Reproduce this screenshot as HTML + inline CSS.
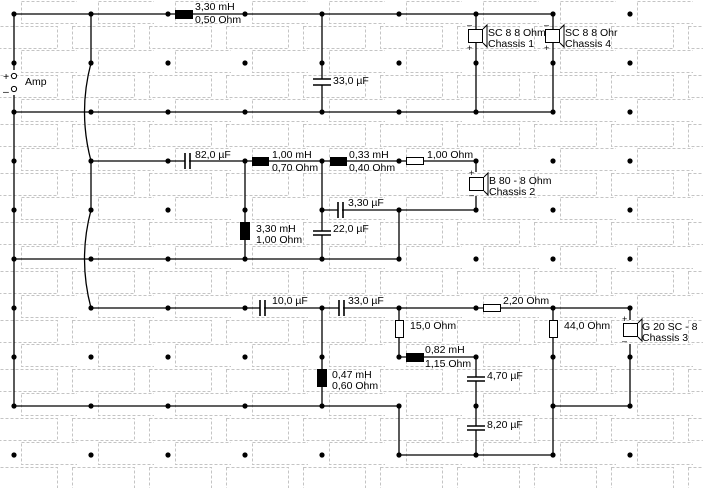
<!DOCTYPE html>
<html><head><meta charset="utf-8"><style>
html,body{margin:0;padding:0;background:#fff;}
svg{display:block;font-family:"Liberation Sans",sans-serif;font-size:10.5px;}
</style></head><body>
<svg width="703" height="488" viewBox="0 0 703 488" xmlns="http://www.w3.org/2000/svg">
<defs>
<pattern id="br" x="0" y="1" width="77" height="49" patternUnits="userSpaceOnUse">
<g fill="none" stroke="#c4c4c4" stroke-dasharray="3,2" stroke-width="1">
<rect x="-4.5" y="25.5" width="62" height="22"/>
<rect x="72.5" y="25.5" width="62" height="22"/>
<rect x="21.5" y="0.5" width="60" height="22"/>
</g>
</pattern>
</defs>
<rect x="0" y="0" width="703" height="488" fill="url(#br)"/>
<!-- grid dots -->
<g fill="#000">
<g id="row">
<circle cx="14" cy="14" r="2.6"/><circle cx="91" cy="14" r="2.6"/><circle cx="168" cy="14" r="2.6"/><circle cx="245" cy="14" r="2.6"/><circle cx="322" cy="14" r="2.6"/><circle cx="399" cy="14" r="2.6"/><circle cx="476" cy="14" r="2.6"/><circle cx="553" cy="14" r="2.6"/><circle cx="630" cy="14" r="2.6"/>
</g>
<use href="#row" y="49"/><use href="#row" y="98"/><use href="#row" y="147"/><use href="#row" y="196"/><use href="#row" y="245"/><use href="#row" y="294"/><use href="#row" y="343"/><use href="#row" y="392"/><use href="#row" y="441"/>
</g>
<g stroke="#000" stroke-width="1.3" fill="none">
<!-- top -->
<path d="M14 14H553M14 14V70M14 95V406"/>
<path d="M91 14V63Q78 112 91 161V210Q78 259 91 308"/>
<path d="M322 14V79M322 85V112"/>
<path d="M476 14V112M553 14V112M14 112H553"/>
<!-- middle -->
<path d="M91 161H185M189 161H476V172M476 196V210H342M338 210H322"/>
<path d="M245 161V259M322 161V231M322 235V259M399 210V259M14 259H399"/>
<!-- bottom -->
<path d="M91 308H260M264 308H339M343 308H630V320M630 344V406H553"/>
<path d="M322 308V406M14 406H399V455H553V308"/>
<path d="M399 308V357H476V377M476 381V426M476 430V455"/>
</g>
<!-- plates -->
<g stroke="#000" stroke-width="1.6">
<path d="M313 79H331M313 85H331"/>
<path d="M185 153V169M190 153V169"/>
<path d="M338 202V218M343 202V218"/>
<path d="M313 231H331M313 235H331"/>
<path d="M260 300V316M265 300V316"/>
<path d="M339 300V316M344 300V316"/>
<path d="M467 377H485M467 381H485"/>
<path d="M467 426H485M467 430H485"/>
</g>
<!-- inductors -->
<g fill="#000">
<rect x="175" y="10" width="18" height="9"/>
<rect x="252" y="157" width="17" height="9"/>
<rect x="330" y="157" width="17" height="9"/>
<rect x="240" y="222" width="10" height="18"/>
<rect x="406" y="353" width="18" height="9"/>
<rect x="317" y="369" width="10" height="18"/>
</g>
<!-- resistors -->
<g fill="#fff" stroke="#000" stroke-width="1">
<rect x="406.5" y="157.5" width="17" height="7"/>
<rect x="483.5" y="304.5" width="17" height="7"/>
<rect x="395.5" y="320.5" width="8" height="17"/>
<rect x="549.5" y="320.5" width="8" height="17"/>
</g>
<!-- speakers -->
<g fill="#fff" stroke="#000" stroke-width="1">
<rect x="468.5" y="29.5" width="14" height="13"/><path d="M483 29l4-4v22l-4-4"/>
<rect x="545.5" y="29.5" width="14" height="13"/><path d="M560 29l4-4v22l-4-4"/>
<rect x="469.5" y="177.5" width="14" height="13"/><path d="M484 177l4-4v22l-4-4"/>
<rect x="623.5" y="323.5" width="14" height="13"/><path d="M638 323l4-4v22l-4-4"/>
</g>
<!-- amp terminals -->
<circle cx="14" cy="76" r="2.6" fill="#fff" stroke="#000"/>
<circle cx="14" cy="89" r="2.6" fill="#fff" stroke="#000"/>
<g fill="#000">
<text x="3" y="80">+</text><text x="3" y="95">–</text>
<text x="25" y="85">Amp</text>
<text x="195" y="10">3,30 mH</text><text x="195" y="23">0,50 Ohm</text>
<text x="333" y="84">33,0 µF</text>
<text x="467" y="28" font-size="9">–</text><text x="467" y="51" font-size="9">+</text>
<text x="488" y="36">SC 8 8 Ohm</text><text x="488" y="47">Chassis 1</text>
<text x="544" y="28" font-size="9">–</text><text x="544" y="51" font-size="9">+</text>
<text x="565" y="36">SC 8 8 Ohr</text><text x="565" y="47">Chassis 4</text>
<text x="195" y="158">82,0 µF</text>
<text x="272" y="158">1,00 mH</text><text x="272" y="171">0,70 Ohm</text>
<text x="349" y="158">0,33 mH</text><text x="349" y="171">0,40 Ohm</text>
<text x="427" y="158">1,00 Ohm</text>
<text x="469" y="176" font-size="9">+</text><text x="469" y="198" font-size="9">–</text>
<text x="489" y="184">B 80 - 8 Ohm</text><text x="489" y="195">Chassis 2</text>
<text x="348" y="206">3,30 µF</text>
<text x="333" y="232">22,0 µF</text>
<text x="256" y="232">3,30 mH</text><text x="256" y="243">1,00 Ohm</text>
<text x="272" y="304">10,0 µF</text>
<text x="348" y="304">33,0 µF</text>
<text x="503" y="304">2,20 Ohm</text>
<text x="410" y="329">15,0 Ohm</text>
<text x="564" y="329">44,0 Ohm</text>
<text x="622" y="322" font-size="9">+</text><text x="622" y="344" font-size="9">–</text>
<text x="642" y="330">G 20 SC - 8</text><text x="642" y="341">Chassis 3</text>
<text x="425" y="353">0,82 mH</text><text x="425" y="367">1,15 Ohm</text>
<text x="487" y="379">4,70 µF</text>
<text x="487" y="428">8,20 µF</text>
<text x="332" y="378">0,47 mH</text><text x="332" y="389">0,60 Ohm</text>
</g>
</svg>
</body></html>
